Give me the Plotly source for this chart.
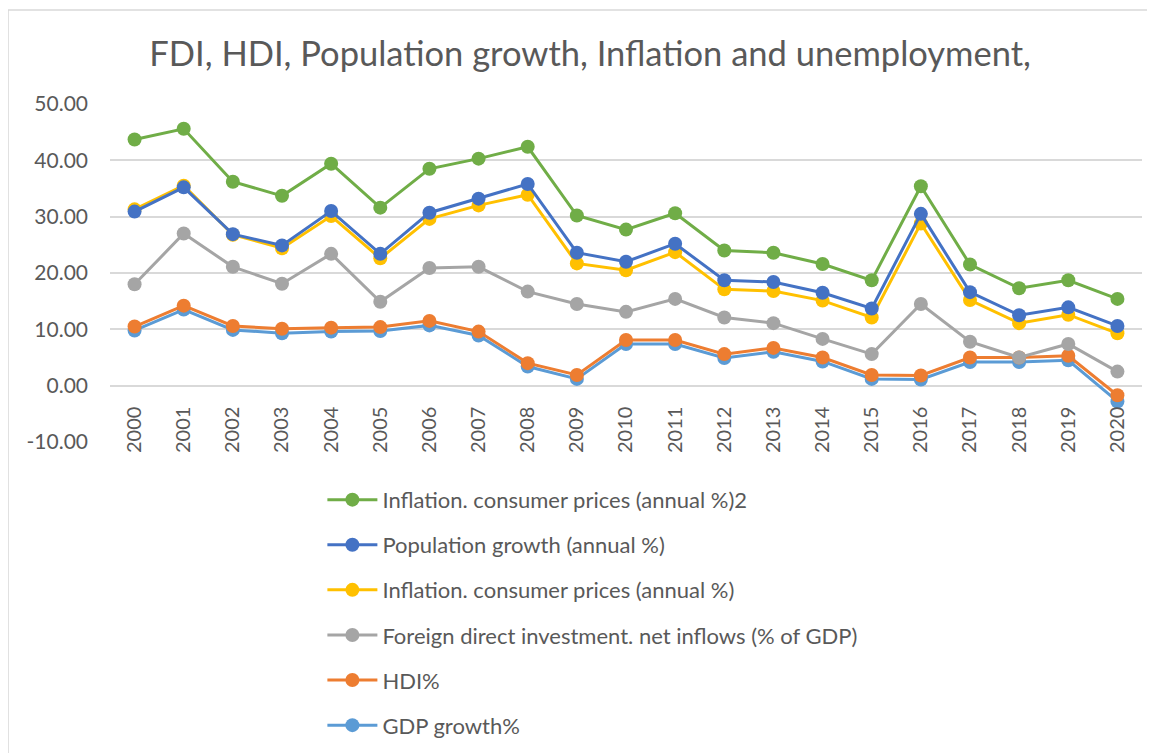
import plotly.graph_objects as go

years = [str(y) for y in range(2000, 2021)]

gdp_growth = [9.8, 13.5, 9.9, 9.3, 9.6, 9.7, 10.7, 8.9, 3.4, 1.2, 7.4,
              7.4, 4.9, 6.0, 4.3, 1.2, 1.1, 4.2, 4.2, 4.5, -2.8]
hdi = [10.5, 14.2, 10.6, 10.1, 10.3, 10.4, 11.5, 9.6, 4.0, 1.9, 8.1,
       8.1, 5.6, 6.7, 5.0, 1.9, 1.8, 5.0, 5.0, 5.3, -1.7]
fdi = [18.0, 27.0, 21.1, 18.1, 23.4, 14.9, 20.9, 21.1, 16.7, 14.5, 13.1,
       15.4, 12.1, 11.1, 8.3, 5.6, 14.5, 7.8, 5.0, 7.4, 2.5]
inflation = [31.3, 35.5, 26.8, 24.4, 30.1, 22.6, 29.6, 32.0, 33.9, 21.7, 20.5,
             23.7, 17.1, 16.8, 15.1, 12.1, 28.8, 15.2, 11.1, 12.6, 9.3]
population = [30.9, 35.2, 26.9, 24.9, 31.0, 23.4, 30.7, 33.2, 35.8, 23.6, 22.0,
              25.2, 18.7, 18.4, 16.5, 13.7, 30.5, 16.6, 12.5, 13.9, 10.6]
inflation2 = [43.7, 45.6, 36.2, 33.7, 39.4, 31.6, 38.5, 40.3, 42.4, 30.2, 27.7,
              30.6, 24.0, 23.6, 21.6, 18.7, 35.4, 21.5, 17.3, 18.7, 15.4]

y_ticks = [-10, 0, 10, 20, 30, 40, 50]
y_tick_labels = ["-10.00", "0.00", "10.00", "20.00", "30.00", "40.00", "50.00"]

# drawn bottom-up, legend shown top-down in reverse (Excel style)
series = [
    ("GDP growth%", gdp_growth, "#5B9BD5"),
    ("HDI%", hdi, "#ED7D31"),
    ("Foreign direct investment. net inflows (% of GDP)", fdi, "#A5A5A5"),
    ("Inflation. consumer prices (annual %)", inflation, "#FFC000"),
    ("Population growth (annual %)", population, "#4472C4"),
    ("Inflation. consumer prices (annual %)2", inflation2, "#70AD47"),
]

FONT = "Lato, Arial, sans-serif"
TXT = "#595959"

fig = go.Figure()
for i, (name, vals, color) in enumerate(series):
    fig.add_trace(go.Scatter(
        x=years, y=vals, name=name, legendgroup=name,
        legendrank=len(series) - i,
        mode="lines+markers",
        line=dict(color=color, width=3),
        marker=dict(color=color, size=14),
    ))

fig.update_layout(
    width=1155, height=753,
    paper_bgcolor="white", plot_bgcolor="white",
    margin=dict(l=102, r=21, t=96, b=319, autoexpand=False),
    font=dict(family=FONT, color=TXT, size=20),
    title=dict(
        text="FDI, HDI, Population growth, Inflation and unemployment,",
        x=0.504, xanchor="center", y=0.955, yanchor="top",
        font=dict(size=34.5, color=TXT, family=FONT),
    ),
    showlegend=True,
    legend=dict(
        x=0.2058, xanchor="left", y=-0.109, yanchor="top",
        traceorder="grouped", tracegroupgap=13.5,
        font=dict(size=22, color=TXT), itemwidth=50,
        bgcolor="rgba(0,0,0,0)",
    ),
    # thin chart-area border like the Excel chart frame
    shapes=[dict(
        type="rect", xref="paper", yref="paper",
        x0=-0.0988, x1=1.2, y0=-1.2, y1=1.278,
        line=dict(color="#d9d9d9", width=1.5), layer="below",
    )],
)

fig.update_yaxes(
    range=[-10, 50], tickvals=y_ticks, ticktext=y_tick_labels,
    showgrid=True, gridcolor="#d9d9d9", gridwidth=1.5,
    zeroline=False, showline=False, automargin=False,
    ticklabelstandoff=21, tickfont=dict(size=21, color=TXT),
)
fig.update_xaxes(
    type="category", range=[-0.5, 20.5], anchor="free", position=10 / 60,
    showgrid=False, zeroline=False, showline=False, automargin=False,
    tickangle=-90, ticklabelstandoff=16,
    tickfont=dict(size=20, color=TXT),
)

fig.write_html("out.html")
